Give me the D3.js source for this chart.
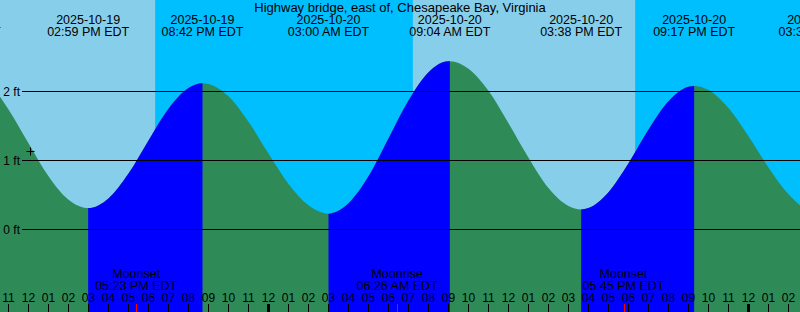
<!DOCTYPE html>
<html>
<head>
<meta charset="utf-8">
<script src="https://cdn.jsdelivr.net/npm/d3@7/dist/d3.min.js"></script>
<style>
  body { margin: 0; background: #fff; }
  svg { display: block; font-family: "Liberation Sans", Arial, sans-serif; }
</style>
</head>
<body>
<svg width="800" height="312"></svg>
<script>
// times are hours from 2025-10-20 00:00 EDT
const title = "Highway bridge, east of, Chesapeake Bay, Virginia";

// high / low tides
const extremeTimes = [-15.43, -9.017, -3.3, 3.0, 9.067, 15.633, 21.283, 27.533];
const extremeHeights = [2.3, 0.31, 2.12, 0.23, 2.44, 0.29, 2.08, 0.25];
const extremeDates = ["2025-10-19", "2025-10-19", "2025-10-19", "2025-10-20", "2025-10-20", "2025-10-20", "2025-10-20", "2025-10-21"];
const extremeClock = ["08:34 AM EDT", "02:59 PM EDT", "08:42 PM EDT", "03:00 AM EDT", "09:04 AM EDT", "03:38 PM EDT", "09:17 PM EDT", "03:32 AM EDT"];

// hourly predicted heights (ft)
const hourTimes = d3.range(-14, 28);
const hourHeights = [2.12, 1.74, 1.25, 0.77, 0.43, 0.31, 0.45, 0.81, 1.29, 1.75,
  2.05, 2.11, 1.93, 1.56, 1.10, 0.66, 0.35, 0.23, 0.38, 0.77,
  1.32, 1.87, 2.28, 2.44, 2.33, 2.01, 1.54, 1.04, 0.60, 0.34,
  0.31, 0.54, 0.96, 1.45, 1.86, 2.07, 2.02, 1.76, 1.35, 0.90,
  0.51, 0.28];

// night = sunset .. sunrise
const sunsetTimes = [-5.667, 18.333];
const sunriseTimes = [7.217, 31.2];

const moonTimes = [-6.617, 6.433, 17.75];
const moonNames = ["Moonset", "Moonrise", "Moonset"];
const moonClock = ["05:23 PM EDT", "06:26 AM EDT", "05:45 PM EDT"];

const tickHours = d3.range(-13, 27);
const tickLabels = ["11", "12", "01", "02", "03", "04", "05", "06", "07", "08", "09", "10",
  "11", "12", "01", "02", "03", "04", "05", "06", "07", "08", "09", "10",
  "11", "12", "01", "02", "03", "04", "05", "06", "07", "08", "09", "10",
  "11", "12", "01", "02"];

const feetTicks = [0, 1, 2];
const nowTime = -11.9, nowHeight = 1.13;

const svg = d3.select("svg");
const width = +svg.attr("width");
const height = +svg.attr("height");

const x = d3.scaleLinear().domain([-13.425, 26.575]).range([0, width]);
const y = d3.scaleLinear().domain([0, 1]).range([229.5, 160.5]);

// day / night background
svg.append("rect").attr("width", width).attr("height", height).attr("fill", "#87ceeb");
svg.append("g").selectAll("rect")
  .data(sunsetTimes)
  .join("rect")
  .attr("x", d => x(d))
  .attr("width", (d, i) => x(sunriseTimes[i]) - x(d))
  .attr("height", height)
  .attr("fill", "#00bfff");

// merge hourly and extreme points
let pts = extremeTimes.map((t, i) => ({ t: t, h: extremeHeights[i] }));
hourTimes.forEach((t, i) => {
  if (!extremeTimes.some(e => Math.abs(e - t) < 0.05)) pts.push({ t: t, h: hourHeights[i] });
});
pts.sort((a, b) => a.t - b.t);

const area = d3.area()
  .x(d => x(d.t))
  .y0(height)
  .y1(d => y(d.h))
  .curve(d3.curveMonotoneX);

// rising parts in blue, falling in green
const rising = [];
for (let i = 0; i < extremeTimes.length - 1; i++) {
  if (extremeHeights[i + 1] > extremeHeights[i]) rising.push([extremeTimes[i], extremeTimes[i + 1]]);
}
svg.append("clipPath").attr("id", "rise")
  .selectAll("rect")
  .data(rising)
  .join("rect")
  .attr("x", d => x(d[0]))
  .attr("width", d => x(d[1]) - x(d[0]))
  .attr("height", height);

svg.append("path").datum(pts).attr("d", area).attr("fill", "#2e8b57");
svg.append("path").datum(pts).attr("d", area).attr("fill", "#0000ff").attr("clip-path", "url(#rise)");

// height lines
const ft = svg.append("g");
ft.selectAll("line")
  .data(feetTicks)
  .join("line")
  .attr("x1", 22).attr("x2", width)
  .attr("y1", d => Math.round(y(d)) - 0.5).attr("y2", d => Math.round(y(d)) - 0.5)
  .attr("stroke", "#000");
ft.selectAll("text")
  .data(feetTicks)
  .join("text")
  .attr("x", 20)
  .attr("y", d => y(d) + 4)
  .attr("text-anchor", "end")
  .attr("font-size", 12)
  .text(d => d + " ft");

// now marker
svg.append("path")
  .attr("d", `M${x(nowTime) - 4},${y(nowHeight)}h8M${x(nowTime)},${y(nowHeight) - 4}v8`)
  .attr("stroke", "#000")
  .attr("fill", "none");

// tide labels
const tideText = svg.append("g").attr("font-size", 12.5).attr("text-anchor", "middle");
extremeTimes.forEach((t, i) => {
  tideText.append("text").attr("x", x(t)).attr("y", 24).text(extremeDates[i]);
  tideText.append("text").attr("x", x(t)).attr("y", 36).text(extremeClock[i]);
});
svg.append("text")
  .attr("x", width / 2).attr("y", 12)
  .attr("text-anchor", "middle")
  .attr("font-size", 13)
  .text(title);

// moon labels
const moon = svg.append("g").attr("font-size", 12.5).attr("text-anchor", "middle");
moonTimes.forEach((t, i) => {
  moon.append("text").attr("x", x(t)).attr("y", 278).text(moonNames[i]);
  moon.append("text").attr("x", x(t)).attr("y", 290).text(moonClock[i]);
});

// hour axis
const ax = svg.append("g");
ax.selectAll("line")
  .data(tickHours)
  .join("line")
  .attr("x1", d => x(d)).attr("x2", d => x(d))
  .attr("y1", 304).attr("y2", height)
  .attr("stroke", "#000")
  .attr("stroke-width", (d, i) => tickLabels[i] === "12" && d % 24 === 0 ? 3 : 1);
ax.selectAll("text")
  .data(tickHours)
  .join("text")
  .attr("x", d => x(d))
  .attr("y", 302)
  .attr("text-anchor", "middle")
  .attr("font-size", 12)
  .text((d, i) => tickLabels[i]);
ax.append("g").selectAll("line")
  .data(moonTimes)
  .join("line")
  .attr("x1", d => Math.round(x(d)) + 0.5).attr("x2", d => Math.round(x(d)) + 0.5)
  .attr("y1", 304).attr("y2", height)
  .attr("stroke", "#f00");
</script>
</body>
</html>
